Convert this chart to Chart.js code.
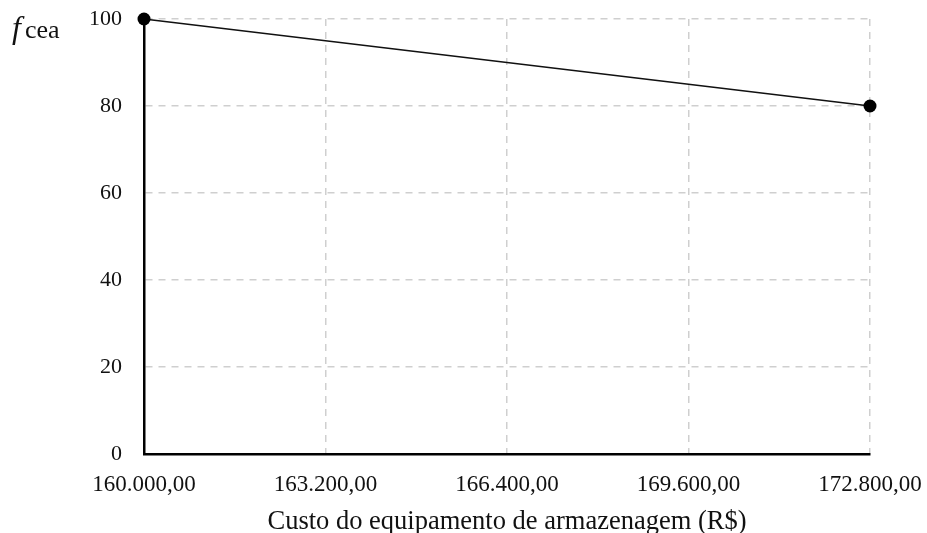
<!DOCTYPE html>
<html>
<head>
<meta charset="utf-8">
<script src="https://cdn.jsdelivr.net/npm/chart.js@4/dist/chart.umd.min.js"></script>
<style>
  html, body { margin: 0; padding: 0; background: #fff; }
  #wrap { width: 927px; height: 533px; position: relative; }
</style>
</head>
<body>
<div id="wrap"><canvas id="chart"></canvas></div>
<script>
// custo do equipamento (R$) e valor da função fcea
const custos = [160000, 172800];
const fcea = [100, 80];
const xTicks = [160000, 163200, 166400, 169600, 172800];
const yTicks = [0, 20, 40, 60, 80, 100];

const serif = '"Liberation Serif", "Times New Roman", serif';
const gridColor = '#cfcfcf';

function formatBRL(v) {
  const inteiro = Math.round(v).toString().replace(/\B(?=(\d{3})+(?!\d))/g, '.');
  return inteiro + ',00';
}

// rótulo do eixo y: "f" em itálico seguido de "cea"
const yLabel = {
  id: 'yLabel',
  afterDraw(chart) {
    const ctx = chart.ctx;
    ctx.save();
    ctx.fillStyle = '#111';
    ctx.textBaseline = 'alphabetic';
    ctx.font = 'italic 32px ' + serif;
    ctx.fillText('f', 12, 38);
    ctx.font = '26px ' + serif;
    ctx.fillText('cea', 25, 38);
    ctx.restore();
  }
};

new Chart(document.getElementById('chart'), {
  type: 'line',
  data: {
    datasets: [{
      data: custos.map((c, i) => ({ x: c, y: fcea[i] })),
      borderColor: '#111',
      backgroundColor: '#000',
      borderWidth: 1.5,
      pointRadius: 6.5,
      pointHoverRadius: 6.5,
      pointBackgroundColor: '#000',
      pointBorderWidth: 0,
      tension: 0,
      clip: false
    }]
  },
  options: {
    responsive: true,
    maintainAspectRatio: false,
    animation: false,
    layout: { padding: { left: 0, top: 19, right: 0, bottom: 0 } },
    plugins: { legend: { display: false }, tooltip: { enabled: false } },
    scales: {
      x: {
        type: 'linear',
        min: xTicks[0],
        max: xTicks[xTicks.length - 1],
        afterBuildTicks: (axis) => { axis.ticks = xTicks.map(v => ({ value: v })); },
        afterFit: (axis) => {
          axis.height = 79;
          axis.paddingLeft = 0;
          axis.paddingRight = 57;
        },
        grid: { color: gridColor, lineWidth: 1.5, drawTicks: false },
        border: { display: true, color: '#000', width: 2.5, dash: [7, 6] },
        ticks: {
          color: '#111',
          padding: 17,
          maxRotation: 0,
          font: { family: serif, size: 23 },
          callback: (v) => formatBRL(v)
        },
        title: {
          display: true,
          text: 'Custo do equipamento de armazenagem (R$)',
          color: '#111',
          font: { family: serif, size: 26.5 },
          padding: { top: 0, bottom: -5 }
        }
      },
      y: {
        min: yTicks[0],
        max: yTicks[yTicks.length - 1],
        afterBuildTicks: (axis) => { axis.ticks = yTicks.map(v => ({ value: v })); },
        afterFit: (axis) => {
          axis.width = 144;
          axis.paddingTop = 0;
          axis.paddingBottom = 0;
        },
        grid: { color: gridColor, lineWidth: 1.5, drawTicks: false },
        border: { display: true, color: '#000', width: 2.5, dash: [7, 6] },
        ticks: {
          color: '#111',
          padding: 22,
          font: { family: serif, size: 22 }
        }
      }
    }
  },
  plugins: [yLabel]
});
</script>
</body>
</html>
